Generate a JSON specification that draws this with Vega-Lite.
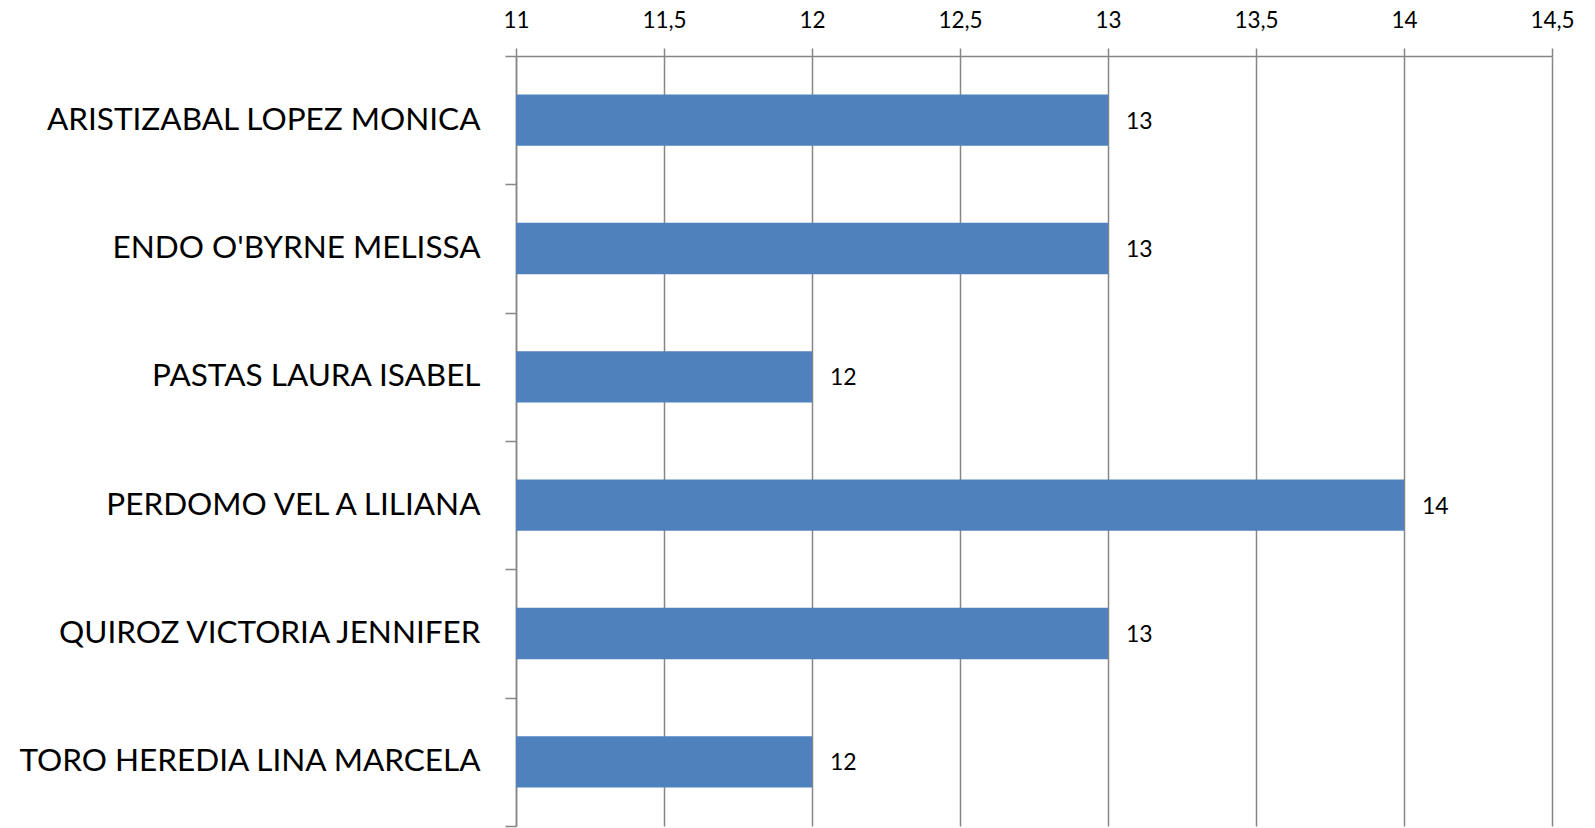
{
  "$schema": "https://vega.github.io/schema/vega-lite/v6.json",
  "autosize": {"type": "none"},
  "padding": {"left": 516, "top": 56, "right": 43, "bottom": 2},
  "width": 1036,
  "height": 770,
  "background": "white",
  "config": {"view": {"stroke": null}},
  "data": {"values": [
    {"name": "ARISTIZABAL LOPEZ MONICA", "value": 13},
    {"name": "ENDO O'BYRNE MELISSA", "value": 13},
    {"name": "PASTAS LAURA ISABEL", "value": 12},
    {"name": "PERDOMO VEL A LILIANA", "value": 14},
    {"name": "QUIROZ VICTORIA JENNIFER", "value": 13},
    {"name": "TORO HEREDIA LINA MARCELA", "value": 12}
  ]},
  "encoding": {
    "y": {
      "field": "name", "type": "nominal", "sort": null,
      "scale": {"paddingInner": 0, "paddingOuter": 0},
      "axis": {
        "title": null, "tickBand": "extent", "tickSize": 11, "tickColor": "#868686",
        "domainColor": "#868686", "domainWidth": 1.5, "tickWidth": 1.5,
        "labelFont": "Lato", "labelFontSize": 31.5, "labelColor": "#000000",
        "labelPadding": 25, "labelLimit": 520, "grid": false
      }
    }
  },
  "layer": [
    {
      "mark": {"type": "bar", "color": "#4F81BD", "height": {"band": 0.4}},
      "encoding": {
        "x": {
          "field": "value", "type": "quantitative",
          "scale": {"domain": [11, 14.5], "zero": false, "nice": false},
          "axis": {
            "orient": "top", "title": null,
            "values": [11, 11.5, 12, 12.5, 13, 13.5, 14, 14.5],
            "labelExpr": "replace(format(datum.value, ''), '.', ',')",
            "grid": true, "gridColor": "#868686", "gridWidth": 1.5,
            "domainColor": "#868686", "domainWidth": 1.5,
            "tickColor": "#868686", "tickWidth": 1.5, "tickSize": 8,
            "labelFont": "Lato", "labelFontSize": 22.5, "labelColor": "#000000",
            "labelPadding": 16, "labelFlush": false
          }
        },
        "x2": {"datum": 11}
      }
    },
    {
      "mark": {"type": "text", "align": "left", "baseline": "middle", "dx": 18, "dy": 1.5, "font": "Lato", "fontSize": 23, "color": "#000000"},
      "encoding": {
        "x": {"field": "value", "type": "quantitative"},
        "text": {"field": "value", "type": "quantitative"}
      }
    }
  ]
}
